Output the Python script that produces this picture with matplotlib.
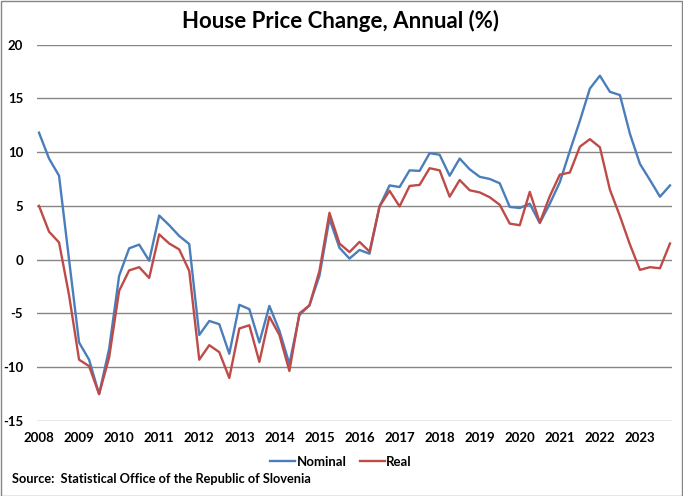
import matplotlib
matplotlib.use("Agg")
import matplotlib.pyplot as plt
from matplotlib.patches import Rectangle

years = list(range(2008, 2024))
quarters = [f"{y}Q{q}" for y in years for q in range(1, 5)]

nominal = [11.8, 9.4, 7.8, 0.0,
           -7.7, -9.3, -12.5, -8.3,
           -1.5, 1.05, 1.4, -0.1,
           4.1, 3.2, 2.2, 1.45,
           -7.0, -5.7, -6.0, -8.75,
           -4.2, -4.6, -7.7, -4.3,
           -6.6, -9.7, -5.15, -4.25,
           -1.5, 3.8, 1.1, 0.1,
           0.9, 0.55, 4.95, 6.9,
           6.75, 8.3, 8.25, 9.9,
           9.75, 7.8, 9.4, 8.4,
           7.7, 7.5, 7.1, 4.9,
           4.8, 5.2, 3.4, 5.2,
           7.2, 10.1, 12.9, 15.9,
           17.1, 15.6, 15.3, 11.7,
           8.9, 7.4, 5.85, 6.9]

real = [5.0, 2.6, 1.6, -3.3,
        -9.3, -9.9, -12.5, -9.1,
        -2.9, -1.0, -0.7, -1.7,
        2.35, 1.5, 0.95, -1.05,
        -9.3, -7.95, -8.6, -11.0,
        -6.4, -6.1, -9.5, -5.3,
        -7.0, -10.35, -5.0, -4.25,
        -1.05, 4.35, 1.5, 0.7,
        1.65, 0.75, 4.95, 6.4,
        4.95, 6.85, 6.95, 8.5,
        8.3, 5.85, 7.4, 6.45,
        6.25, 5.8, 5.1, 3.35,
        3.2, 6.3, 3.45, 5.9,
        7.9, 8.1, 10.5, 11.2,
        10.45, 6.5, 4.05, 1.4,
        -0.95, -0.7, -0.8, 1.5]

yticks = [20, 15, 10, 5, 0, -5, -10, -15]

W, H = 683, 496
fig = plt.figure(figsize=(W / 100, H / 100), dpi=100)
fam = ["Lato", "DejaVu Sans"]

ax = fig.add_axes([37 / W, 1 - 421 / H, (672 - 37) / W, (421 - 44.5) / H])
x = list(range(len(quarters)))
ax.plot(x, nominal, color="#4a7ebb", lw=1.7, label="Nominal", solid_joinstyle="round")
ax.plot(x, real, color="#be4b48", lw=1.7, label="Real", solid_joinstyle="round")

ax.set_xlim(-0.2, len(quarters) - 1 + 0.2)
ax.set_ylim(-15, 20)
ax.set_yticks(yticks)
ax.set_yticklabels([str(v) for v in yticks], fontfamily=fam, fontweight="bold", fontsize=9.5)
ax.set_xticks(x[::4])
ax.set_xticklabels([str(y) for y in years], fontfamily=fam, fontweight="bold", fontsize=9.5)
ax.tick_params(axis="both", length=0)
ax.tick_params(axis="y", pad=10)
ax.tick_params(axis="x", pad=8)
ax.grid(axis="y", color="#868686", lw=1.0)
ax.set_axisbelow(True)
for s in ax.spines.values():
    s.set_visible(False)

fig.text(340 / W, 1 - 21 / H, "House Price Change, Annual (%)", ha="center", va="center",
         fontfamily=fam, fontweight="bold", fontsize=16)

leg = ax.legend(loc="center", bbox_to_anchor=(341 / W, 1 - 462 / H), bbox_transform=fig.transFigure,
                ncol=2, frameon=False, handlelength=1.9, handletextpad=0.1, columnspacing=1.0,
                prop={"family": fam, "weight": "bold", "size": 9.5})

fig.text(12 / W, 1 - 479 / H, "Source:  Statistical Office of the Republic of Slovenia", ha="left",
         va="center", fontfamily=fam, fontweight="bold", fontsize=9.2)

fig.patches.append(Rectangle((0.5 / W, 0.5 / H), 1 - 1.5 / W, 1 - 1.5 / H, transform=fig.transFigure,
                             fill=False, edgecolor="#868686", lw=1.0))

fig.savefig("out.png", dpi=100)
